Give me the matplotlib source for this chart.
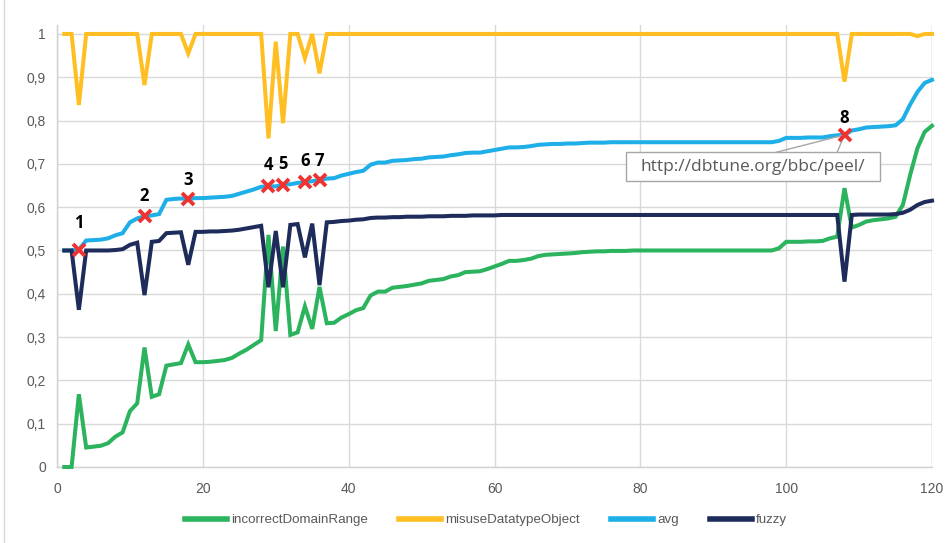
import matplotlib
matplotlib.use("Agg")
import matplotlib.pyplot as plt
from matplotlib.patches import Rectangle
from matplotlib.lines import Line2D

# ---------------- data ----------------
x_vals = list(range(1, 121))

incorrect_domain_range = [
    0.000, 0.000, 0.168, 0.045, 0.047, 0.049, 0.055, 0.070, 0.080, 0.129,
    0.147, 0.276, 0.162, 0.168, 0.234, 0.237, 0.240, 0.283, 0.242, 0.242,
    0.243, 0.245, 0.247, 0.252, 0.262, 0.271, 0.282, 0.293, 0.536, 0.314,
    0.509, 0.305, 0.311, 0.371, 0.319, 0.416, 0.332, 0.333, 0.345, 0.353,
    0.362, 0.367, 0.396, 0.405, 0.405, 0.414, 0.416, 0.418, 0.421, 0.424,
    0.430, 0.432, 0.434, 0.440, 0.443, 0.450, 0.451, 0.452, 0.457, 0.463,
    0.469, 0.476, 0.476, 0.478, 0.481, 0.487, 0.490, 0.491, 0.492, 0.493,
    0.494, 0.496, 0.497, 0.498, 0.498, 0.499, 0.499, 0.499, 0.500, 0.500,
    0.500, 0.500, 0.500, 0.500, 0.500, 0.500, 0.500, 0.500, 0.500, 0.500,
    0.500, 0.500, 0.500, 0.500, 0.500, 0.500, 0.500, 0.500, 0.505, 0.520,
    0.520, 0.520, 0.521, 0.521, 0.522, 0.528, 0.532, 0.644, 0.553, 0.559,
    0.567, 0.570, 0.572, 0.574, 0.578, 0.605, 0.674, 0.736, 0.774, 0.788,
]

misuse_datatype_object = [
    1.000, 1.000, 0.836, 1.000, 1.000, 1.000, 1.000, 1.000, 1.000, 1.000,
    1.000, 0.882, 1.000, 1.000, 1.000, 1.000, 1.000, 0.955, 1.000, 1.000,
    1.000, 1.000, 1.000, 1.000, 1.000, 1.000, 1.000, 1.000, 0.759, 0.982,
    0.794, 1.000, 1.000, 0.944, 1.000, 0.909, 1.000, 1.000, 1.000, 1.000,
    1.000, 1.000, 1.000, 1.000, 1.000, 1.000, 1.000, 1.000, 1.000, 1.000,
    1.000, 1.000, 1.000, 1.000, 1.000, 1.000, 1.000, 1.000, 1.000, 1.000,
    1.000, 1.000, 1.000, 1.000, 1.000, 1.000, 1.000, 1.000, 1.000, 1.000,
    1.000, 1.000, 1.000, 1.000, 1.000, 1.000, 1.000, 1.000, 1.000, 1.000,
    1.000, 1.000, 1.000, 1.000, 1.000, 1.000, 1.000, 1.000, 1.000, 1.000,
    1.000, 1.000, 1.000, 1.000, 1.000, 1.000, 1.000, 1.000, 1.000, 1.000,
    1.000, 1.000, 1.000, 1.000, 1.000, 1.000, 1.000, 0.890, 1.000, 1.000,
    1.000, 1.000, 1.000, 1.000, 1.000, 1.000, 1.000, 0.995, 1.000, 1.000,
]

avg = [
    0.500, 0.500, 0.502, 0.523, 0.524, 0.525, 0.528, 0.535, 0.540, 0.565,
    0.574, 0.579, 0.581, 0.584, 0.617, 0.619, 0.620, 0.619, 0.621, 0.621,
    0.622, 0.623, 0.624, 0.626, 0.631, 0.636, 0.641, 0.647, 0.648, 0.648,
    0.652, 0.653, 0.656, 0.658, 0.660, 0.663, 0.666, 0.667, 0.673, 0.677,
    0.681, 0.684, 0.698, 0.703, 0.703, 0.707, 0.708, 0.709, 0.711, 0.712,
    0.715, 0.716, 0.717, 0.720, 0.722, 0.725, 0.726, 0.726, 0.729, 0.732,
    0.735, 0.738, 0.738, 0.739, 0.741, 0.744, 0.745, 0.746, 0.746, 0.747,
    0.747, 0.748, 0.749, 0.749, 0.749, 0.750, 0.750, 0.750, 0.750, 0.750,
    0.750, 0.750, 0.750, 0.750, 0.750, 0.750, 0.750, 0.750, 0.750, 0.750,
    0.750, 0.750, 0.750, 0.750, 0.750, 0.750, 0.750, 0.750, 0.753, 0.760,
    0.760, 0.760, 0.761, 0.761, 0.761, 0.764, 0.766, 0.767, 0.777, 0.780,
    0.784, 0.785, 0.786, 0.787, 0.789, 0.803, 0.837, 0.866, 0.887, 0.894,
]

fuzzy = [
    0.500, 0.500, 0.363, 0.500, 0.500, 0.500, 0.500, 0.501, 0.503, 0.513,
    0.518, 0.397, 0.520, 0.522, 0.540, 0.541, 0.542, 0.467, 0.543, 0.543,
    0.544, 0.544, 0.545, 0.546, 0.548, 0.551, 0.554, 0.557, 0.415, 0.545,
    0.415, 0.559, 0.561, 0.484, 0.562, 0.420, 0.565, 0.566, 0.568, 0.569,
    0.571, 0.572, 0.575, 0.576, 0.576, 0.577, 0.577, 0.578, 0.578, 0.578,
    0.579, 0.579, 0.579, 0.580, 0.580, 0.580, 0.581, 0.581, 0.581, 0.581,
    0.582, 0.582, 0.582, 0.582, 0.582, 0.582, 0.582, 0.582, 0.582, 0.582,
    0.582, 0.582, 0.582, 0.582, 0.582, 0.582, 0.582, 0.582, 0.582, 0.582,
    0.582, 0.582, 0.582, 0.582, 0.582, 0.582, 0.582, 0.582, 0.582, 0.582,
    0.582, 0.582, 0.582, 0.582, 0.582, 0.582, 0.582, 0.582, 0.582, 0.582,
    0.582, 0.582, 0.582, 0.582, 0.582, 0.582, 0.582, 0.428, 0.582, 0.583,
    0.583, 0.583, 0.583, 0.583, 0.584, 0.587, 0.594, 0.605, 0.612, 0.615,
]

marked_x = [3, 12, 18, 29, 31, 34, 36, 108]
marked_labels = ["1", "2", "3", "4", "5", "6", "7", "8"]
callout_text = "http://dbtune.org/bbc/peel/"

x_ticks = [0, 20, 40, 60, 80, 100, 120]
y_ticks = [0, 0.1, 0.2, 0.3, 0.4, 0.5, 0.6, 0.7, 0.8, 0.9, 1.0]
y_tick_labels = ["0", "0,1", "0,2", "0,3", "0,4", "0,5", "0,6", "0,7", "0,8", "0,9", "1"]

series_names = ["incorrectDomainRange", "misuseDatatypeObject", "avg", "fuzzy"]
colors = ["#2BB35D", "#FFBE22", "#1EAEE8", "#1E2C5C"]

# ---------------- figure ----------------
W, H = 950, 543
fig = plt.figure(figsize=(W / 100, H / 100), dpi=100)
ax = fig.add_axes([57 / W, 1 - 467 / H, (932 - 57) / W, (467 - 25.3) / H])

lw = 2.9
series = [incorrect_domain_range, misuse_datatype_object, avg, fuzzy]
for name, vals, c in zip(series_names, series, colors):
    ax.plot(x_vals, vals, color=c, lw=lw, label=name, clip_on=False,
            solid_joinstyle="miter", zorder=3)

# red markers on the avg line
mark_y = [avg[x_vals.index(m)] for m in marked_x]
ax.plot(marked_x, mark_y, linestyle="none", marker="x", color="#EE3333",
        markersize=8, markeredgewidth=2.8, zorder=6)
label_offsets = [27, 20, 19, 21, 21, 21, 19, 17]
for mx, my, lab, off in zip(marked_x, mark_y, marked_labels, label_offsets):
    ax.annotate(lab, (mx, my), xytext=(0, off), textcoords="offset pixels",
                ha="center", va="center", fontsize=12, fontweight="bold",
                family=["Open Sans", "DejaVu Sans"], color="black", zorder=7)

# callout box
x8 = marked_x[-1]
y8 = mark_y[-1]
box_x0, box_x1 = 78.05, 112.9
box_y0, box_y1 = 0.661, 0.727
ax.add_patch(Rectangle((box_x0, box_y0), box_x1 - box_x0, box_y1 - box_y0,
                       facecolor="white", edgecolor="#A6A6A6", lw=1.0, zorder=5))
ax.plot([98.7, x8, 107.0], [box_y1, y8, box_y1], color="#A6A6A6", lw=1.0, zorder=5)
ax.text((box_x0 + box_x1) / 2, (box_y0 + box_y1) / 2 - 0.002, callout_text,
        ha="center", va="center", fontsize=12.5, color="#595959",
        family=["Open Sans", "DejaVu Sans"], zorder=6)

# axes styling
ax.set_xlim(0, 120)
ax.set_ylim(0, 1.02)
ax.set_xticks(x_ticks)
ax.set_yticks(y_ticks)
ax.set_yticklabels(y_tick_labels)
ax.tick_params(length=0, labelsize=10, labelcolor="#595959", pad=8)
ax.tick_params(axis="x", pad=11)
for lab in ax.get_xticklabels() + ax.get_yticklabels():
    lab.set_family(["Liberation Sans", "DejaVu Sans"])
ax.grid(True, color="#D9D9D9", lw=1.0, zorder=0)
ax.set_axisbelow(True)
for s in ["top", "right"]:
    ax.spines[s].set_visible(False)
for s in ["left", "bottom"]:
    ax.spines[s].set_color("#D0D0D0")
    ax.spines[s].set_linewidth(1.0)
ax.axvline(120, color="#D9D9D9", lw=1.0, zorder=0)

# legend
handles = [Line2D([0], [0], color=c, lw=4) for c in colors]
fig.legend(handles, series_names, loc="center", bbox_to_anchor=(486 / W, 1 - 520 / H),
           ncol=4, frameon=False, handlelength=3.2, handletextpad=0.3,
           columnspacing=2.3,
           prop={"family": ["Liberation Sans", "DejaVu Sans"], "size": 9.6},
           labelcolor="#595959")

# chart border on the left
fig.add_artist(Line2D([3.5 / W, 3.5 / W], [0, 1], color="#D9D9D9", lw=1.0,
                      transform=fig.transFigure))

fig.savefig("out.png", dpi=100)
